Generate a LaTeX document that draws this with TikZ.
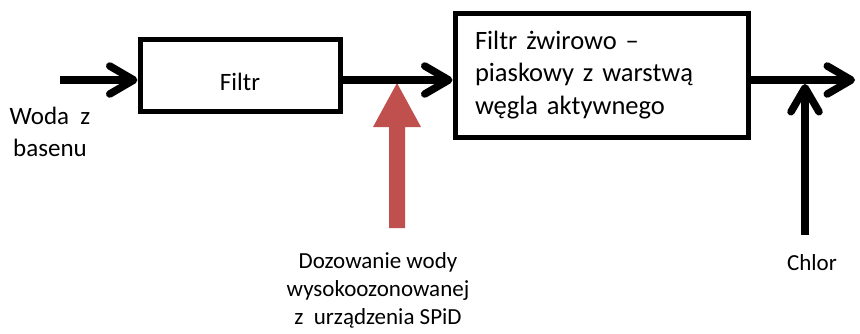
\documentclass[tikz,border=0pt]{standalone}
\usepackage{fontspec}
\setmainfont{Carlito}
\usetikzlibrary{arrows.meta}
\definecolor{czerwony}{RGB}{192,80,77}
\tikzset{%
	blok/.style={draw,line width=5pt,inner sep=0pt,font=\fontsize{25}{32}\selectfont},
	strzalka/.style={line width=7.5pt,-{Straight Barb[length=24pt,width=28pt,round]}},
	opis/.style={align=center,inner sep=0pt},
}

\begin{document}
\begin{tikzpicture}[x=1pt,y=-1pt]
				\useasboundingbox (0,0) rectangle (860,333);
				
				%bloki
				\node[blok, minimum width=200pt, minimum height=72pt, text height=30pt, text depth=0pt] (filtr) at (240,75) {Filtr};
				\node[blok, minimum width=293pt, minimum height=124pt, text width=253pt, align=left, font=\fontsize{26.5}{32.5}\selectfont] (zwir) at (601.5,75) {Filtr żwirowo --\\piaskowy z warstwą\\węgla aktywnego};
				
				%opisy
				\node[opis, font=\fontsize{25}{32}\selectfont] (woda) at (50,132) {Woda~~z\\basenu};
				\node[opis, font=\fontsize{23}{28}\selectfont] (spid) at (378,290) {Dozowanie wody\\wysokoozonowanej\\z~~urządzenia SPiD};
				\node[opis, font=\fontsize{23}{28}\selectfont, anchor=base] (chlor) at (812,270) {Chlor};
				
				%punkty
				\coordinate (wejscie) at (60,80);
				\coordinate (wyjscie) at (855,80);
				\coordinate (dozowanie) at (397,83);
				\coordinate (chlorwlot) at (805,84);
				
				%dozowanie wody
				\fill[czerwony] (dozowanie) -- ++(24,44) -- ++(-16,0) -- ++(0,101) -- ++(-16,0) -- ++(0,-101) -- ++(-16,0) -- cycle;
				
				%przeplyw
				\draw[strzalka] (wejscie) -- (wejscie -| filtr.west);
				\draw[strzalka] (wejscie -| filtr.east) -- (wejscie -| zwir.west);
				\draw[strzalka] (wejscie -| zwir.east) -- (wyjscie);
				\draw[strzalka] (chlorwlot |- 0,235) -- (chlorwlot);
			\end{tikzpicture}
\end{document}
